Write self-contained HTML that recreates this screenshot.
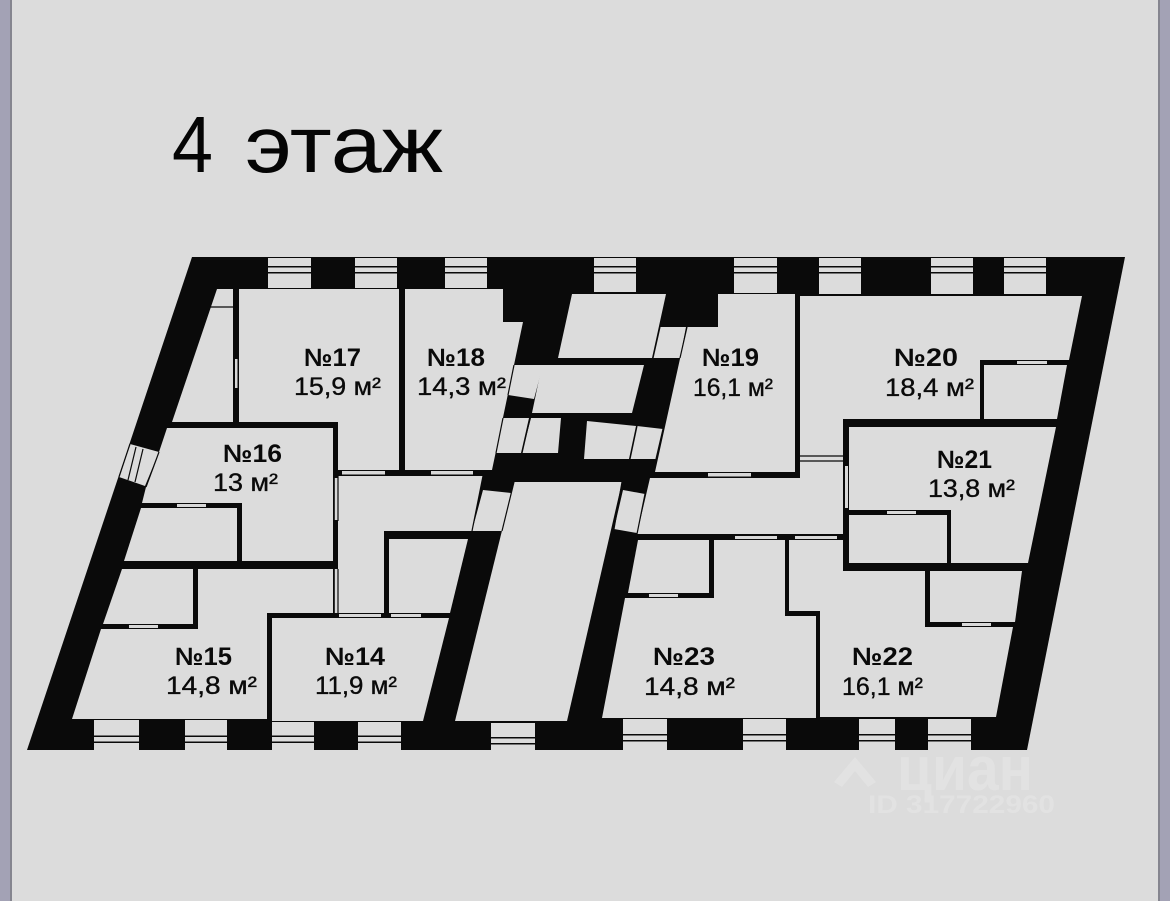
<!DOCTYPE html>
<html lang="ru">
<head>
<meta charset="utf-8">
<title>4 этаж</title>
<style>
html,body{margin:0;padding:0;background:#dcdcdc}
svg{display:block}
.n{font:bold 25px "Liberation Sans","DejaVu Sans",sans-serif;fill:#0a0a0a}
.a{font:25px "Liberation Sans","DejaVu Sans",sans-serif;fill:#0a0a0a;stroke:#0a0a0a;stroke-width:.35}
.t{font:80px "Liberation Sans","DejaVu Sans",sans-serif;fill:#050505}
.w{font-family:"Liberation Sans","DejaVu Sans",sans-serif;font-weight:bold;fill:#e2e2e2}
.r polygon,.r rect{fill:#dcdcdc}
.l line{stroke:#0a0a0a;stroke-width:1.2}
.win rect{fill:#dcdcdc}
.d rect{fill:#d8d8d8}
</style>
</head>
<body>
<svg width="1170" height="901" viewBox="0 0 1170 901" xmlns="http://www.w3.org/2000/svg">
<rect width="1170" height="901" fill="#dcdcdc"/>
<rect x="0" y="0" width="10" height="901" fill="#a3a2b5"/>
<rect x="10" y="0" width="2" height="901" fill="#85858f"/>
<rect x="1158" y="0" width="2" height="901" fill="#85858f"/>
<rect x="1160" y="0" width="10" height="901" fill="#a3a2b5"/>

<!-- watermark -->
<polygon points="834,782 855,757 876,782 868,787 855,771 842,787" fill="#e2e2e2"/>
<text class="w" x="897" y="790" font-size="62" textLength="136" lengthAdjust="spacingAndGlyphs">циан</text>
<text class="w" x="868" y="813" font-size="25" textLength="187" lengthAdjust="spacingAndGlyphs">ID 317722960</text>

<!-- outer walls -->
<polygon points="192,257 1125,257 1027,750 27,750" fill="#0a0a0a"/>

<!-- rooms -->
<g class="r">
<polygon points="217,289 233,289 233,422 172,422"/>
<polygon points="239,289 399,289 399,470 338,470 338,422 239,422"/>
<polygon points="405,289 503,289 503,322 523,322 492,470 405,470"/>
<polygon points="167,428 333,428 333,561 242,561 242,503 142,503 146,487 159,452"/>
<polygon points="141,508 237,508 237,561 124,561"/>
<polygon points="122,569 193,569 193,624 103,624"/>
<polygon points="198,569 333,569 333,613 267,613 267,719 72,719 101,629 198,629"/>
<polygon points="272,618 449,618 423,721 272,721"/>
<polygon points="338,476 483,476 472,531 384,531 384,613 338,613"/>
<polygon points="389,539 468,539 450,613 389,613"/>
<polygon points="514,482 622,482 567,721 455,721"/>
<polygon points="483,490 511,493 502,531 472,531"/>
<polygon points="623,490 645,494 637,533 614,529"/>
<polygon points="130,444 159,452 145,486 119,477"/>

<polygon points="572,294 666,294 652,358 558,358"/>
<polygon points="660,327 686,327 680,358 653,358"/>
<polygon points="542,365 644,365 632,413 532,413"/>
<polygon points="514,365 543,365 534,399 508,395"/>
<polygon points="503,418 529,418 521,453 496,453"/>
<polygon points="531,418 561,418 558,453 522,453"/>
<polygon points="587,421 636,426 629,459 584,459"/>
<polygon points="637,426 663,429 656,459 630,459"/>

<polygon points="718,294 795,294 795,472 655,472 687,327 718,327"/>
<polygon points="800,296 1082,296 1069,360 980,360 980,419 843,419 843,456 800,456"/>
<polygon points="984,365 1067,365 1057,419 984,419"/>
<polygon points="849,427 1056,427 1028,563 951,563 951,510 849,510"/>
<polygon points="849,515 947,515 947,563 849,563"/>
<polygon points="650,478 800,478 800,461 843,461 843,534 637,534"/>
<polygon points="638,540 709,540 709,593 628,593"/>
<polygon points="714,540 785,540 785,616 816,616 816,718 602,718 625,598 714,598"/>
<polygon points="789,540 843,540 843,571 925,571 925,627 1013,627 996,717 820,717 820,611 789,611"/>
<polygon points="930,571 1022,571 1015,622 930,622"/>
<rect x="800" y="456" width="43" height="5"/>
</g>

<!-- thin lines -->
<g class="l">
<line x1="210" y1="307" x2="233" y2="307"/>
<line x1="159" y1="452" x2="146" y2="487"/>
<line x1="136" y1="447" x2="128" y2="480"/>
<line x1="143" y1="449" x2="135" y2="482"/>
<line x1="130" y1="444" x2="119" y2="477"/>
<line x1="483" y1="476" x2="472" y2="531"/>
<line x1="514" y1="482" x2="502" y2="531"/>
<line x1="622" y1="482" x2="614" y2="529"/>
<line x1="645" y1="494" x2="637" y2="534"/>
<line x1="514" y1="365" x2="508" y2="395"/>
<line x1="503" y1="418" x2="496" y2="453"/>
<line x1="530" y1="418" x2="522" y2="453"/>
<line x1="637" y1="426" x2="630" y2="459"/>
<line x1="663" y1="429" x2="656" y2="459"/>
<line x1="687" y1="327" x2="680" y2="358"/>
<line x1="660" y1="327" x2="653" y2="358"/>
<line x1="800" y1="456" x2="843" y2="456"/>
<line x1="800" y1="461" x2="843" y2="461"/>
<line x1="334" y1="476" x2="334" y2="521"/>
<line x1="338" y1="476" x2="338" y2="521"/>
<line x1="334" y1="569" x2="334" y2="613"/>
<line x1="338" y1="569" x2="338" y2="613"/>
</g>

<!-- doors -->
<g class="d">
<rect x="235" y="359" width="2.5" height="29"/>
<rect x="342" y="471" width="43" height="3.500"/>
<rect x="431" y="471" width="42" height="3.500"/>
<rect x="334.800" y="478" width="2.600" height="42"/>
<rect x="334.800" y="569" width="2.600" height="44"/>
<rect x="177" y="504" width="29" height="3"/>
<rect x="129" y="625" width="29" height="3"/>
<rect x="339" y="614" width="42" height="3"/>
<rect x="391" y="614" width="30" height="3"/>
<rect x="708" y="473" width="43" height="3.500"/>
<rect x="845" y="466" width="3" height="42"/>
<rect x="1017" y="361" width="30" height="3"/>
<rect x="887" y="511" width="29" height="3"/>
<rect x="735" y="536" width="42" height="3"/>
<rect x="795" y="536" width="42" height="3"/>
<rect x="649" y="594" width="29" height="3"/>
<rect x="962" y="623" width="29" height="3"/>
</g>

<!-- top windows -->
<g class="win">
<rect x="268" y="258" width="43" height="30"/>
<rect x="355" y="258" width="42" height="30"/>
<rect x="445" y="258" width="42" height="30"/>
<rect x="594" y="258" width="42" height="34"/>
<rect x="734" y="258" width="43" height="35"/>
<rect x="819" y="258" width="42" height="36"/>
<rect x="931" y="258" width="42" height="36"/>
<rect x="1004" y="258" width="42" height="36"/>
<!-- bottom windows -->
<rect x="94" y="720" width="45" height="30"/>
<rect x="185" y="720" width="42" height="30"/>
<rect x="272" y="722" width="42" height="28"/>
<rect x="358" y="722" width="43" height="28"/>
<rect x="491" y="723" width="44" height="27"/>
<rect x="623" y="719" width="44" height="31"/>
<rect x="743" y="719" width="43" height="31"/>
<rect x="859" y="719" width="36" height="31"/>
<rect x="928" y="719" width="43" height="31"/>
</g>
<!-- window mullions -->
<g fill="#0a0a0a">
<rect x="268" y="266" width="43" height="1.500"/><rect x="268" y="272" width="43" height="1.500"/>
<rect x="355" y="266" width="42" height="1.500"/><rect x="355" y="272" width="42" height="1.500"/>
<rect x="445" y="266" width="42" height="1.500"/><rect x="445" y="272" width="42" height="1.500"/>
<rect x="594" y="266" width="42" height="1.500"/><rect x="594" y="272" width="42" height="1.500"/>
<rect x="734" y="266" width="43" height="1.500"/><rect x="734" y="272" width="43" height="1.500"/>
<rect x="819" y="266" width="42" height="1.500"/><rect x="819" y="272" width="42" height="1.500"/>
<rect x="931" y="266" width="42" height="1.500"/><rect x="931" y="272" width="42" height="1.500"/>
<rect x="1004" y="266" width="42" height="1.500"/><rect x="1004" y="272" width="42" height="1.500"/>

<rect x="94" y="735.500" width="45" height="1.500"/><rect x="94" y="741.500" width="45" height="1.500"/>
<rect x="185" y="735.500" width="42" height="1.500"/><rect x="185" y="741.500" width="42" height="1.500"/>
<rect x="272" y="735.500" width="42" height="1.500"/><rect x="272" y="741.500" width="42" height="1.500"/>
<rect x="358" y="735.500" width="43" height="1.500"/><rect x="358" y="741.500" width="43" height="1.500"/>
<rect x="491" y="737" width="44" height="1.500"/><rect x="491" y="743" width="44" height="1.500"/>
<rect x="623" y="734" width="44" height="1.500"/><rect x="623" y="740" width="44" height="1.500"/>
<rect x="743" y="734" width="43" height="1.500"/><rect x="743" y="740" width="43" height="1.500"/>
<rect x="859" y="734" width="36" height="1.500"/><rect x="859" y="740" width="36" height="1.500"/>
<rect x="928" y="734" width="43" height="1.500"/><rect x="928" y="740" width="43" height="1.500"/>
</g>

<!-- title -->
<text class="t" x="172" y="172" textLength="41" lengthAdjust="spacingAndGlyphs">4</text>
<text class="t" x="245" y="172" textLength="198" lengthAdjust="spacingAndGlyphs">этаж</text>

<!-- labels -->
<text class="n" x="304" y="366" textLength="57" lengthAdjust="spacingAndGlyphs">№17</text>
<text class="a" x="294" y="395" textLength="87" lengthAdjust="spacingAndGlyphs">15,9 м²</text>
<text class="n" x="427" y="366" textLength="58" lengthAdjust="spacingAndGlyphs">№18</text>
<text class="a" x="417" y="395" textLength="89" lengthAdjust="spacingAndGlyphs">14,3 м²</text>
<text class="n" x="223" y="462" textLength="59" lengthAdjust="spacingAndGlyphs">№16</text>
<text class="a" x="213" y="491" textLength="65" lengthAdjust="spacingAndGlyphs">13 м²</text>
<text class="n" x="175" y="665" textLength="57" lengthAdjust="spacingAndGlyphs">№15</text>
<text class="a" x="166" y="694" textLength="91" lengthAdjust="spacingAndGlyphs">14,8 м²</text>
<text class="n" x="325" y="665" textLength="60" lengthAdjust="spacingAndGlyphs">№14</text>
<text class="a" x="315" y="694" textLength="82" lengthAdjust="spacingAndGlyphs">11,9 м²</text>
<text class="n" x="702" y="366" textLength="57" lengthAdjust="spacingAndGlyphs">№19</text>
<text class="a" x="693" y="396" textLength="80" lengthAdjust="spacingAndGlyphs">16,1 м²</text>
<text class="n" x="894" y="366" textLength="64" lengthAdjust="spacingAndGlyphs">№20</text>
<text class="a" x="885" y="396" textLength="89" lengthAdjust="spacingAndGlyphs">18,4 м²</text>
<text class="n" x="937" y="468" textLength="55" lengthAdjust="spacingAndGlyphs">№21</text>
<text class="a" x="928" y="497" textLength="87" lengthAdjust="spacingAndGlyphs">13,8 м²</text>
<text class="n" x="653" y="665" textLength="62" lengthAdjust="spacingAndGlyphs">№23</text>
<text class="a" x="644" y="695" textLength="91" lengthAdjust="spacingAndGlyphs">14,8 м²</text>
<text class="n" x="852" y="665" textLength="61" lengthAdjust="spacingAndGlyphs">№22</text>
<text class="a" x="842" y="695" textLength="81" lengthAdjust="spacingAndGlyphs">16,1 м²</text>
</svg>
</body>
</html>
